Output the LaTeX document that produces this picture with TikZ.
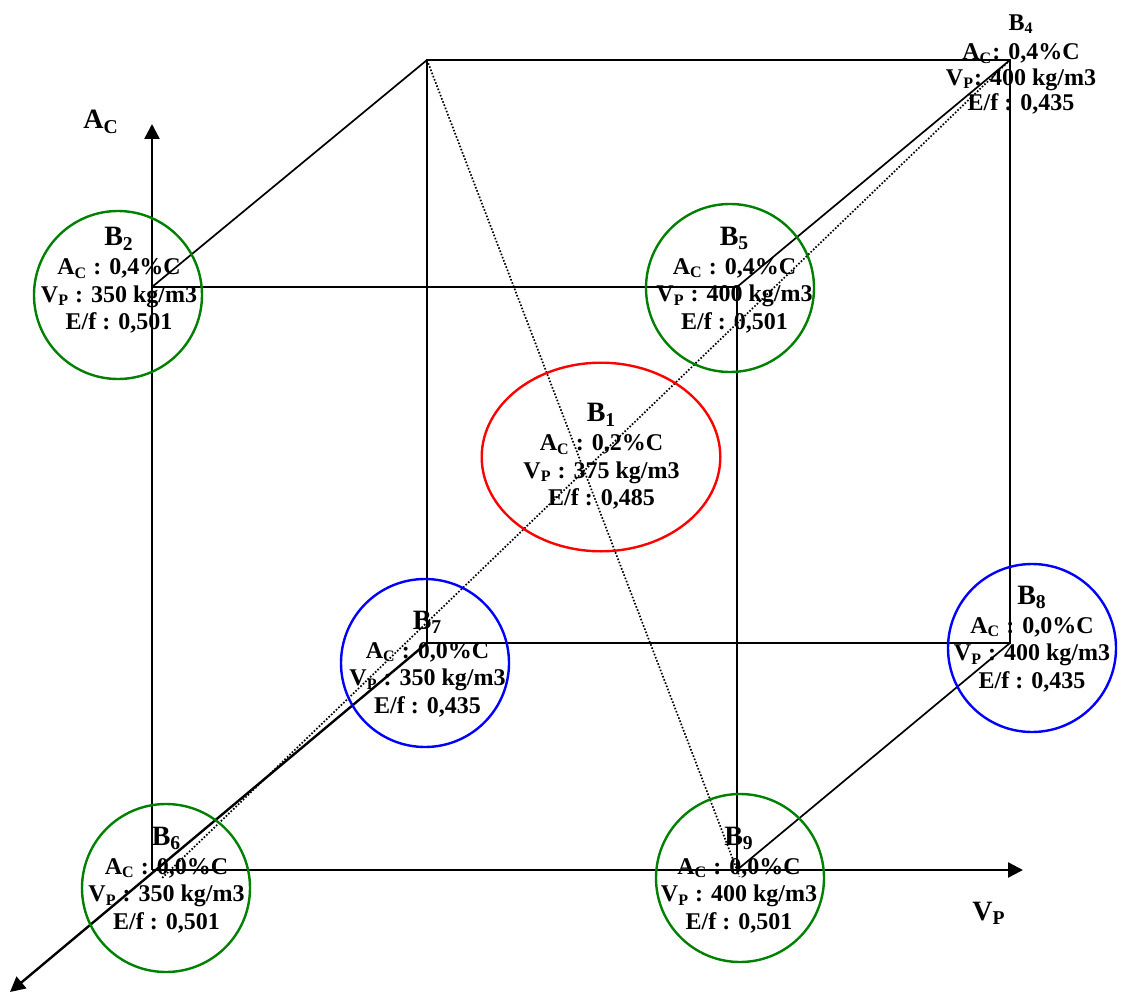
\documentclass[tikz,border=0pt]{standalone}
\usepackage{fontspec}
\setmainfont{Liberation Serif}
\usepackage{tikz}
\usetikzlibrary{arrows.meta,shapes.geometric}
\definecolor{ptgreen}{HTML}{008000}
\definecolor{ptred}{HTML}{FF0000}
\definecolor{ptblue}{HTML}{0000FF}
\newcommand{\ptsub}[1]{\textsubscript{#1}}
\newcommand{\ptname}[1]{{\fontsize{14}{16}\selectfont B\ptsub{#1}}}
\tikzset{
  ring/.style={circle,draw=#1,line width=1.2pt,minimum size=84pt,inner sep=0pt},
  oval/.style={ellipse,draw=#1,line width=1.2pt,minimum width=119.3pt,minimum height=94.3pt,inner sep=0pt},
  pttext/.style={align=center,inner sep=0pt,font=\bfseries\fontsize{12}{13.75}\selectfont},
  axlabel/.style={inner sep=0pt,font=\bfseries\fontsize{14}{16}\selectfont},
  cubeline/.style={line width=0.85pt},
  dotline/.style={line width=0.85pt,dash pattern=on 0.8pt off 0.9pt},
  axisarrow/.style={line width=1.2pt,-{Triangle[length=7.5pt,width=7.5pt]}},
}
\begin{document}
\begin{tikzpicture}[x=0.5pt,y=-0.5pt]
  \useasboundingbox (0,0) rectangle (1123,994);
  % cube corners (front / back)
  \coordinate (fbl) at (152,870);
  \coordinate (fbr) at (737,870);
  \coordinate (ftl) at (152,287);
  \coordinate (ftr) at (737,287);
  \coordinate (bbl) at (427,643);
  \coordinate (bbr) at (1010,643);
  \coordinate (btl) at (427,60);
  \coordinate (btr) at (1010,60);
  \coordinate (acTip) at (152,124);
  \coordinate (vpTip) at (1023,870);
  \coordinate (depthTip) at (10,992);
  \coordinate (dotEnd) at (161,879);

  \draw[axisarrow] (fbl) -- (acTip);
  \draw[axisarrow] (fbl) -- (vpTip);
  \draw[axisarrow] (bbl) -- (depthTip);
  \draw[cubeline] (ftl) -- (ftr) -- (fbr);
  \draw[cubeline] (btl) -- (btr) -- (bbr) -- (bbl) -- cycle;
  \draw[cubeline] (ftl) -- (btl) (ftr) -- (btr) (fbr) -- (bbr);
  \draw[dotline,shorten >=-3.5pt] (btl) -- (fbr);
  \draw[dotline] (btr) -- (dotEnd);

  \node[axlabel,anchor=base west] (acLabel) at (83,129) {A\ptsub{C}};
  \node[axlabel,anchor=base west] (vpLabel) at (972,920) {V\ptsub{P}};

  \foreach \n/\cx/\cy/\col/\tx/\ty/\a/\v/\e in {
      2/118/295/ptgreen/119/280.5/{0,4}/350/{0,501},
      5/730/288/ptgreen/734.5/280/{0,4}/400/{0,501},
      7/425/663/ptblue/427.5/664/{0,0}/350/{0,435},
      8/1032/648/ptblue/1032/639/{0,0}/400/{0,435},
      6/166/888/ptgreen/166.5/880/{0,0}/350/{0,501},
      9/740/878/ptgreen/739/880/{0,0}/400/{0,501}} {
    \node[ring=\col] (b\n) at (\cx,\cy) {};
    \node[pttext] (t\n) at (\tx,\ty) {\ptname{\n}\\[0.75pt]A\ptsub{C} : \a\%C\\V\ptsub{P} : \v{} kg/m3\\E/f : \e};
  }

  \node[oval=ptred] (b1) at (601,457) {};
  \node[pttext] (t1) at (601.5,456.5) {\ptname{1}\\[0.75pt]A\ptsub{C} : 0,2\%C\\V\ptsub{P} : 375 kg/m3\\E/f : 0,485};

  \node[pttext,font=\bfseries\fontsize{12}{12.8}\selectfont] (t4) at (1021,64.5) {B\ptsub{4}\\[2pt]A\ptsub{C}: 0,4\%C\\V\ptsub{P}: 400 kg/m3\\E/f : 0,435};
\end{tikzpicture}
\end{document}
